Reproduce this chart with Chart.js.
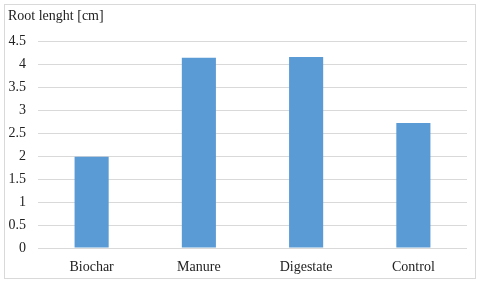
<!DOCTYPE html>
<html>
<head>
<meta charset="utf-8">
<script src="https://cdn.jsdelivr.net/npm/chart.js@4"></script>
<style>
  body { margin: 0; background: #fff; }
  #box { position: absolute; left: 4px; top: 4px; width: 470px; height: 273px; border: 1px solid #d9d9d9; }
</style>
</head>
<body>
<div id="box"><canvas id="root-chart" width="470" height="273"></canvas></div>
<script>
// Root length per treatment
const treatments = ['Biochar', 'Manure', 'Digestate', 'Control'];
const rootLength = [1.99, 4.15, 4.17, 2.73];
const chartTitle = 'Root lenght [cm]';

const serif = '"Liberation Serif", "DejaVu Serif", serif';

new Chart(document.getElementById('root-chart'), {
  type: 'bar',
  data: {
    labels: treatments,
    datasets: [{
      data: rootLength,
      backgroundColor: '#5b9bd5',
      borderWidth: 0,
      barPercentage: 0.53,
      categoryPercentage: 0.6
    }]
  },
  options: {
    responsive: false,
    animation: false,
    layout: { padding: { left: 3, right: 8, top: 0, bottom: 0 } },
    plugins: {
      legend: { display: false },
      tooltip: { enabled: false },
      title: {
        display: true,
        text: chartTitle,
        align: 'start',
        color: '#222',
        font: { family: serif, size: 14, weight: 'normal' },
        padding: { top: 3, bottom: 17 }
      }
    },
    scales: {
      y: {
        min: 0,
        max: 4.5,
        ticks: {
          stepSize: 0.5,
          padding: 12,
          color: '#222',
          font: { family: serif, size: 14 },
          callback: v => String(v)
        },
        grid: { color: '#d9d9d9', drawTicks: false },
        border: { display: false },
        afterFit: scale => { scale.width = 30; }
      },
      x: {
        ticks: {
          padding: 11,
          color: '#222',
          font: { family: serif, size: 14 }
        },
        grid: { display: false, drawTicks: false },
        border: { display: false },
        afterFit: scale => { scale.height = 30; }
      }
    }
  }
});
</script>
</body>
</html>
